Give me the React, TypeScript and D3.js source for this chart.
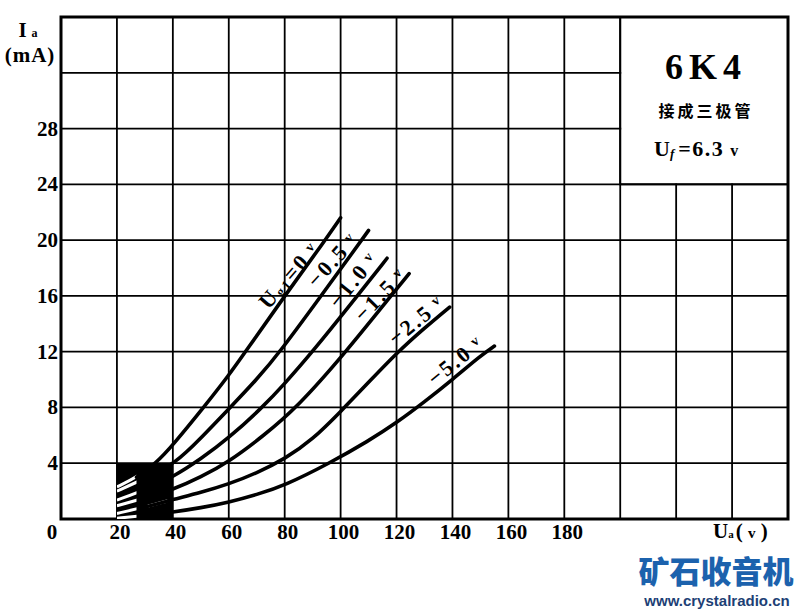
import React from 'react';
import * as d3 from 'd3';

// ---- data (anode voltage Ua in V, anode current Ia in mA) ----
const xTickLabels = [20, 40, 60, 80, 100, 120, 140, 160, 180];
const yTickLabels = [4, 8, 12, 16, 20, 24, 28];
const gridVolts = [0, 20, 40, 60, 80, 100, 120, 140, 160, 180, 200, 220, 240, 260];
const gridMilliamps = [0, 4, 8, 12, 16, 20, 24, 28, 32, 36];

const curveUg0: [number, number][] = [[20, 2.3], [27, 3.0], [34, 4.0], [40, 5.3], [51, 8.0], [60, 10.3], [66, 12.0], [80, 16.0], [94.5, 20.0], [100, 21.6]];
const curveUgM05: [number, number][] = [[20, 2.0], [30, 2.9], [41, 4.0], [50, 5.8], [60.5, 8.0], [70, 10.0], [78.4, 12.0], [93, 16.0], [105, 19.3], [110, 20.7]];
const curveUgM10: [number, number][] = [[20, 1.35], [30, 2.1], [40, 3.0], [50, 4.3], [60, 5.8], [72, 8.0], [80, 9.7], [90, 12.0], [106, 16.0], [116.6, 18.7]];
const curveUgM15: [number, number][] = [[20, 0.95], [30, 1.5], [40, 2.1], [50, 3.0], [60, 4.1], [72, 5.9], [84.5, 8.0], [102, 12.0], [118, 16.0], [124.5, 17.6]];
const curveUgM25: [number, number][] = [[20, 0.4], [30, 0.85], [40, 1.4], [50, 1.9], [60, 2.5], [70, 3.3], [80, 4.3], [90, 5.7], [100, 7.7], [110, 9.8], [120, 11.9], [130, 13.7], [139, 15.2]];
const curveUgM50: [number, number][] = [[20, 0.05], [30, 0.25], [40, 0.5], [50, 0.8], [60, 1.2], [70, 1.75], [80, 2.4], [96, 4.0], [110, 5.6], [120, 6.9], [130, 8.4], [140, 10.0], [150, 11.7], [155, 12.4]];

const curves = [curveUg0, curveUgM05, curveUgM10, curveUgM15, curveUgM25, curveUgM50];
const curveLabels = ['0', '−0.5', '−1.0', '−1.5', '−2.5', '−5.0'];
// label anchors in data units (V, mA) and rotation
const labelAnchors: [number, number, number][] = [[84.5, 17.0, -49], [100, 18.1, -48], [107.5, 16.7, -51], [117, 15.6, -46], [129.5, 13.7, -39], [143.5, 10.8, -39]];

const SERIF = '"Liberation Serif", "DejaVu Serif", serif';
const CJK = '"Noto Sans CJK SC", sans-serif';

export default function App() {
  const x = d3.scaleLinear().domain([0, 260]).range([61, 788]);
  const y = d3.scaleLinear().domain([0, 36]).range([519, 17]);
  const line = d3.line<[number, number]>().x(d => x(d[0])).y(d => y(d[1])).curve(d3.curveBasis);

  const boxX0 = x(200), boxX1 = x(260), boxY0 = y(36), boxY1 = y(24);

  return (
    <svg width={805} height={612} style={{ position: 'absolute', left: 0, top: 0, display: 'block' }}>
      <defs>
        <clipPath id="streaks">
          <rect x={x(20)} y={y(4)} width={x(27) - x(20)} height={y(0) - y(4)} />
        </clipPath>
        <clipPath id="streaks2">
          <rect x={x(31)} y={y(4)} width={x(38) - x(31)} height={y(0) - y(4)} />
        </clipPath>
      </defs>
      <rect width={805} height={612} fill="#fff" />

      {/* grid */}
      <g stroke="#000" strokeWidth={1.8}>
        {gridVolts.map(v => (
          <line key={'gx' + v} x1={x(v)} x2={x(v)} y1={y(36)} y2={y(0)} />
        ))}
        {gridMilliamps.map(m => (
          <line key={'gy' + m} x1={x(0)} x2={x(260)} y1={y(m)} y2={y(m)} />
        ))}
      </g>

      {/* legend box */}
      <rect x={boxX0 + 1} y={boxY0 + 1} width={boxX1 - boxX0 - 2} height={boxY1 - boxY0 - 2} fill="#fff" />
      <path d={`M${boxX0},${boxY0}V${boxY1}H${boxX1}`} stroke="#000" strokeWidth={2} fill="none" />

      {/* frame */}
      <rect x={x(0)} y={y(36)} width={x(260) - x(0)} height={y(0) - y(36)} fill="none" stroke="#000" strokeWidth={3} />

      {/* black block 20-40 V, 0-4 mA */}
      <rect x={x(20)} y={y(4)} width={x(40) - x(20)} height={y(0) - y(4)} fill="#000" />
      <g clipPath="url(#streaks)">
        {curves.map((c, i) => (
          <path key={'w' + i} d={line(c) || ''} stroke="#fff" strokeWidth={3} fill="none" />
        ))}
      </g>
      <g clipPath="url(#streaks2)">
        <path d={line(curveUgM25) || ''} stroke="#fff" strokeWidth={3} fill="none" />
      </g>

      {/* curves */}
      <g>
        {curves.map((c, i) => (
          <path key={'c' + i} d={line(c.filter(d => d[0] >= 26)) || ''} stroke="#000" strokeWidth={3.6} fill="none" strokeLinecap="round" />
        ))}
      </g>

      {/* curve labels */}
      <g fontFamily={SERIF} fontWeight="bold" fill="#000">
        {curveLabels.map((t, i) => {
          const [v, m, a] = labelAnchors[i];
          return (
            <text key={'l' + i} transform={`translate(${x(v)},${y(m)}) rotate(${a}) translate(0,-11)`} textAnchor="middle" dominantBaseline="central" fontSize={22} letterSpacing={2.5}>
              {i === 0 ? (
                <>
                  <tspan>U</tspan>
                  <tspan fontSize={13} dy={4}>g1</tspan>
                  <tspan dy={-4}>=0</tspan>
                  <tspan fontSize={14} dy={-3}> v</tspan>
                </>
              ) : (
                <>
                  <tspan>{t}</tspan>
                  <tspan fontSize={14} dy={-3}> v</tspan>
                </>
              )}
            </text>
          );
        })}
      </g>

      {/* axis tick labels */}
      <g fontFamily={SERIF} fontWeight="bold" fontSize={21} fill="#000">
        {yTickLabels.map(m => (
          <text key={'yl' + m} x={58} y={y(m)} textAnchor="end" dominantBaseline="central">{m}</text>
        ))}
        <text x={52} y={532} textAnchor="middle" dominantBaseline="central">0</text>
        {xTickLabels.map(v => (
          <text key={'xl' + v} x={x(v) + 3} y={532} textAnchor="middle" dominantBaseline="central">{v}</text>
        ))}
      </g>

      {/* axis titles */}
      <g fontFamily={SERIF} fontWeight="bold" fill="#000">
        <text x={28} y={37} fontSize={21} textAnchor="middle">I<tspan fontSize={12} dx={5}>a</tspan></text>
        <text x={30} y={62} fontSize={21} textAnchor="middle" letterSpacing={1}>(mA)</text>
        <text x={713} y={538} fontSize={21}>U<tspan fontSize={11}>a</tspan><tspan dx={2}>( </tspan><tspan fontSize={15}>v</tspan><tspan> )</tspan></text>
      </g>

      {/* legend text */}
      <g fill="#000">
        <text x={(boxX0 + boxX1) / 2 + 2} y={79} textAnchor="middle" fontFamily={SERIF} fontWeight="bold" fontSize={36} letterSpacing={6}>6K4</text>
        <text x={(boxX0 + boxX1) / 2 + 2} y={117} textAnchor="middle" fontFamily={CJK} fontWeight="bold" fontSize={16} letterSpacing={3}>接成三极管</text>
        <text x={654} y={156} fontFamily={SERIF} fontWeight="bold" fontSize={22}>
          U<tspan fontSize={13} fontStyle="italic" dy={2}>f</tspan><tspan dy={-2} dx={4} letterSpacing={1.5}>=6.3</tspan><tspan fontSize={16} dx={6}>v</tspan>
        </text>
      </g>

      {/* watermark */}
      <text x={716} y={583} textAnchor="middle" fontFamily={CJK} fontWeight="900" fontSize={31} fill="#1c62ad">矿石收音机</text>
      <text x={717} y={606} textAnchor="middle" fontFamily={'"Liberation Sans", Arial, sans-serif'} fontWeight="bold" fontSize={15} fill="#1d3f75">www.crystalradio.cn</text>
    </svg>
  );
}
